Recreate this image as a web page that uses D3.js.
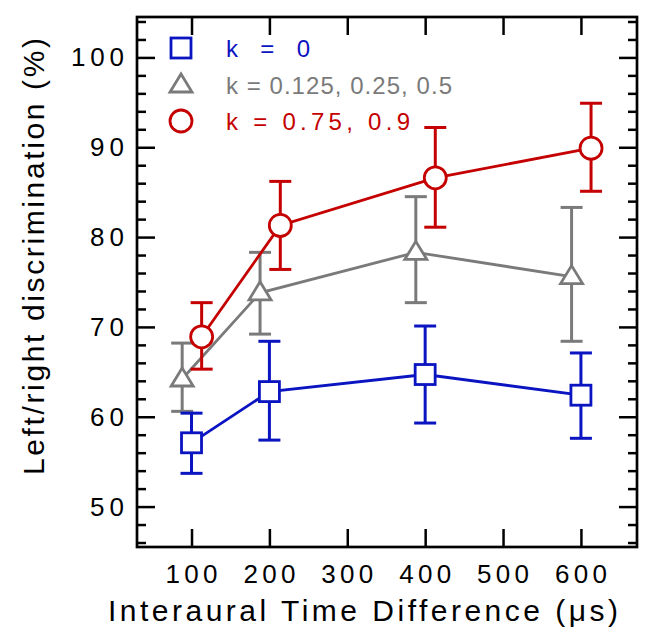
<!DOCTYPE html>
<html><head><meta charset="utf-8">
<script src="https://cdn.jsdelivr.net/npm/d3@7"></script>
<style>body{margin:0;background:#fff}svg{display:block}text{font-family:"Liberation Sans",Arial,sans-serif}</style>
</head><body>
<svg id="c" width="665" height="630"></svg>
<script>
// ---- data ----
const itd = [100, 200, 400, 600];
const xTicks = [100, 200, 300, 400, 500, 600];
const yTicks = [50, 60, 70, 80, 90, 100];
const legendLabels = ["k = 0", "k = 0.125, 0.25, 0.5", "k = 0.75, 0.9"];
// plotted (offset) x positions
const xBlue = [100, 200, 400, 600];
const xGray = [88, 188, 388, 588];
const xRed  = [113, 214, 413, 613];
const blueMean = [57.1, 62.8, 64.7, 62.4];
const blueHi   = [60.4, 68.4, 70.1, 67.1];
const blueLo   = [53.7, 57.4, 59.3, 57.6];
const grayMean = [64.2, 73.8, 78.3, 75.6];
const grayHi   = [68.2, 78.3, 84.5, 83.3];
const grayLo   = [60.6, 69.2, 72.7, 68.4];
const redMean  = [68.9, 81.3, 86.6, 89.9];
const redHi    = [72.7, 86.2, 92.2, 94.9];
const redLo    = [65.3, 76.4, 81.1, 85.1];

const svg = d3.select("#c");
const L = 137, R = 637, T = 17, B = 547;
const x = d3.scaleLinear().domain([30, 672]).range([L, R]);
const y = d3.scaleLinear().domain([45.5, 104.5]).range([B, T]);

const BLUE = "#0a14c0", GRAY = "#7a7a7a", RED = "#c40000";

// axes ticks (inward)
const minorY = d3.range(46, 105, 2).filter(v => v % 10 !== 0);
const axL = d3.axisRight(y).tickValues(yTicks).tickSize(18).tickFormat("");
const axLm = d3.axisRight(y).tickValues(minorY).tickSize(9).tickFormat("");
const axR = d3.axisLeft(y).tickValues(yTicks).tickSize(18).tickFormat("");
const axRm = d3.axisLeft(y).tickValues(minorY).tickSize(9).tickFormat("");
const axB = d3.axisTop(x).tickValues(xTicks).tickSize(18).tickFormat("");
const axT = d3.axisBottom(x).tickValues(xTicks).tickSize(18).tickFormat("");
function put(ax, tx, ty) {
  const g = svg.append("g").attr("transform", `translate(${tx},${ty})`).call(ax);
  g.select(".domain").remove();
  g.selectAll("line").attr("stroke", "#000").attr("stroke-width", 2.5);
}
put(axL, L, 0); put(axLm, L, 0); put(axR, R, 0); put(axRm, R, 0); put(axB, 0, B); put(axT, 0, T);
svg.append("rect").attr("x", L).attr("y", T).attr("width", R - L).attr("height", B - T)
  .attr("fill", "none").attr("stroke", "#000").attr("stroke-width", 2.7);

// tick labels
svg.append("g").selectAll("text").data(yTicks).join("text")
  .attr("x", 124).attr("y", d => y(d) + 9).attr("text-anchor", "end")
  .attr("font-size", 26)
  .attr("textLength", d => String(d).length === 3 ? 53 : 34).attr("lengthAdjust", "spacing")
  .text(d => d);
svg.append("g").selectAll("text").data(xTicks).join("text")
  .attr("x", d => x(d)).attr("y", 583).attr("text-anchor", "middle")
  .attr("font-size", 26)
  .attr("textLength", 52).attr("lengthAdjust", "spacing")
  .text(d => d);

// titles
svg.append("text").attr("x", 108).attr("y", 621).attr("font-size", 30)
  .attr("textLength", 510).attr("lengthAdjust", "spacing")
  .text("Interaural Time Difference (\u03bcs)");
svg.append("text").attr("transform", "translate(44,475) rotate(-90)").attr("font-size", 30)
  .attr("textLength", 437).attr("lengthAdjust", "spacing")
  .text("Left/right discrimination (%)");

// series
function series(xs, m, hi, lo, color, shape) {
  const g = svg.append("g");
  const pts = xs.map((v, i) => ({ x: v, m: m[i], hi: hi[i], lo: lo[i] }));
  g.append("path").datum(pts)
    .attr("d", d3.line().x(d => x(d.x)).y(d => y(d.m)))
    .attr("fill", "none").attr("stroke", color).attr("stroke-width", 2.8);
  const eb = g.selectAll("g.eb").data(pts).join("g");
  eb.append("line").attr("x1", d => x(d.x)).attr("x2", d => x(d.x))
    .attr("y1", d => y(d.hi)).attr("y2", d => y(d.lo)).attr("stroke", color).attr("stroke-width", 3);
  eb.append("line").attr("x1", d => x(d.x) - 11).attr("x2", d => x(d.x) + 11)
    .attr("y1", d => y(d.hi)).attr("y2", d => y(d.hi)).attr("stroke", color).attr("stroke-width", 3);
  eb.append("line").attr("x1", d => x(d.x) - 11).attr("x2", d => x(d.x) + 11)
    .attr("y1", d => y(d.lo)).attr("y2", d => y(d.lo)).attr("stroke", color).attr("stroke-width", 3);
  pts.forEach(d => marker(g, x(d.x), y(d.m), color, shape));
}
function marker(g, cx, cy, color, shape) {
  let el;
  if (shape === "sq") el = g.append("rect").attr("x", cx - 10).attr("y", cy - 10).attr("width", 20).attr("height", 20);
  else if (shape === "ci") el = g.append("circle").attr("cx", cx).attr("cy", cy).attr("r", 11);
  else el = g.append("path").attr("d", `M${cx},${cy - 11}L${cx + 11},${cy + 7}L${cx - 11},${cy + 7}Z`);
  el.attr("fill", "#fff").attr("stroke", color).attr("stroke-width", 2.8);
}
series(xGray, grayMean, grayHi, grayLo, GRAY, "tr");
series(xBlue, blueMean, blueHi, blueLo, BLUE, "sq");
series(xRed, redMean, redHi, redLo, RED, "ci");

// legend
const lg = svg.append("g");
const lgColors = [BLUE, GRAY, RED], lgShapes = ["sq", "tr", "ci"], lgY = [48, 85, 121], lgLen = [84, 226, 184];
legendLabels.forEach((t, i) => {
  marker(lg, 181, lgY[i], lgColors[i], lgShapes[i]);
  lg.append("text").attr("x", 226).attr("y", lgY[i] + 9).attr("font-size", 24)
    .attr("fill", lgColors[i]).attr("textLength", lgLen[i]).attr("lengthAdjust", "spacing").text(t);
});
</script>
</body></html>
